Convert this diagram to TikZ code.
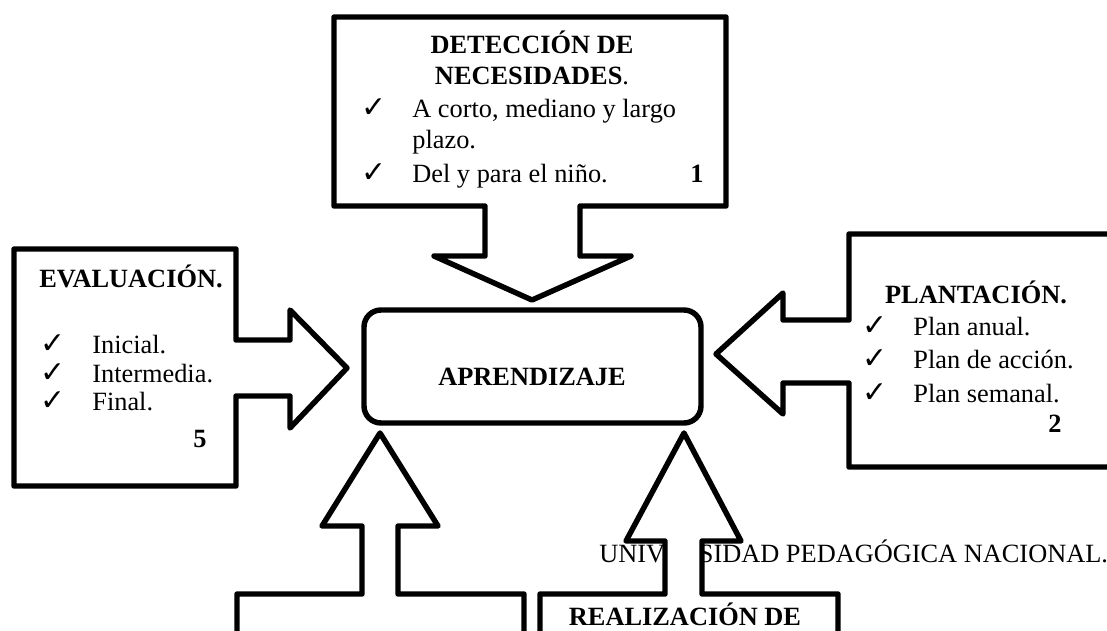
\documentclass[tikz,border=0pt]{standalone}
\usepackage{fontspec}
\setmainfont{Liberation Serif}
\newfontfamily\checkfont{DejaVu Sans}
\newcommand{\checkmk}{{\checkfont\fontsize{17}{17}\selectfont ✓}}
\begin{document}
\begin{tikzpicture}[x=0.02cm, y=-0.02cm, font=\fontsize{15}{18}\selectfont,
  outline/.style={draw, line width=3.1pt, line join=round, fill=white},
  heading/.style={anchor=base, inner sep=0pt, font=\fontsize{15}{18}\selectfont\bfseries},
  item/.style={anchor=base west, inner sep=0pt},
  tickmark/.style={anchor=base, inner sep=0pt}]
\useasboundingbox (0,0) rectangle (1107,630);
\node[item] (univ) at (599,562) {UNIVERSIDAD PEDAGÓGICA NACIONAL.};
% boxes with their arrows
\draw[outline] (334,17) -- (726,17) -- (726,206) -- (580,206) -- (580,256) -- (631,256) -- (532,300) -- (434,256) -- (485,256) -- (485,206) -- (334,206) -- cycle;
\draw[outline] (14,249) -- (236,249) -- (236,340) -- (290,340) -- (290,310) -- (347,368) -- (290,428) -- (290,396) -- (236,396) -- (236,486) -- (14,486) -- cycle;
\draw[outline] (1125,234) -- (849,234) -- (849,320) -- (783,320) -- (783,293) -- (716,354) -- (783,414) -- (783,383) -- (849,383) -- (849,467) -- (1125,467) -- cycle;
\draw[outline] (237,650) -- (237,594) -- (362,594) -- (362,526) -- (322,526) -- (380,433) -- (438,526) -- (398,526) -- (398,594) -- (524,594) -- (524,650) -- cycle;
\draw[outline] (540,650) -- (540,594) -- (665,594) -- (665,541) -- (626,541) -- (684,433) -- (741,541) -- (702,541) -- (702,594) -- (838,594) -- (838,650) -- cycle;
\draw[outline, rounded corners=0.34cm] (364,310) rectangle (701,423);
% centre
\node[heading] (aprendizaje) at (532,385) {APRENDIZAJE};
% 1
\node[heading] (deteccion) at (532,53) {DETECCIÓN DE};
\node[heading] (necesidades) at (532,84) {NECESIDADES{\mdseries.}};
\node[tickmark] (tickd1) at (374,117) {\checkmk};
\node[item] (plazo1) at (412,117) {A corto, mediano y largo};
\node[item] (plazo2) at (412,148) {plazo.};
\node[tickmark] (tickd2) at (374,182) {\checkmk};
\node[item] (nino) at (412,182) {Del y para el niño.};
\node[heading] (num1) at (697,182) {1};
% 2
\node[heading] (plantacion) at (976,303) {PLANTACIÓN.};
\node[tickmark] (tickp1) at (875,335) {\checkmk};
\node[item] (anual) at (913,335) {Plan anual.};
\node[tickmark] (tickp2) at (875,368) {\checkmk};
\node[item] (accion) at (913,368) {Plan de acción.};
\node[tickmark] (tickp3) at (875,402) {\checkmk};
\node[item] (semanal) at (913,402) {Plan semanal.};
\node[heading] (num2) at (1055,432) {2};
% 5
\node[heading] (evaluacion) at (131,287) {EVALUACIÓN.};
\node[tickmark] (ticke1) at (53,353) {\checkmk};
\node[item] (inicial) at (92,353) {Inicial.};
\node[tickmark] (ticke2) at (53,382) {\checkmk};
\node[item] (intermedia) at (92,382) {Intermedia.};
\node[tickmark] (ticke3) at (53,410) {\checkmk};
\node[item] (final) at (92,410) {Final.};
\node[heading] (num5) at (200,447) {5};
% 3
\node[heading] (realizacion) at (685,625) {REALIZACIÓN DE};
\end{tikzpicture}
\end{document}
